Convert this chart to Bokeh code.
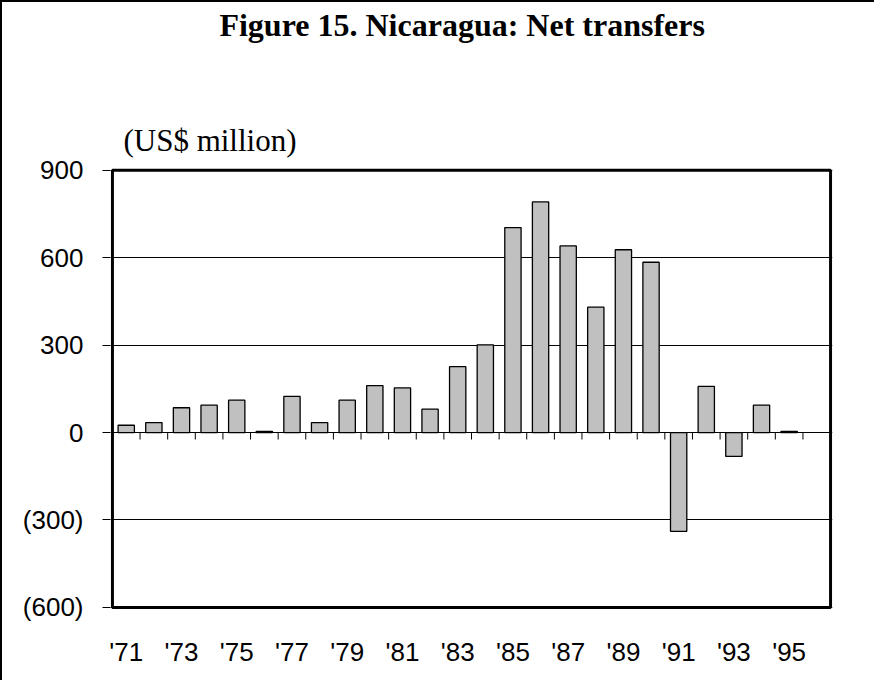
from bokeh.plotting import figure
from bokeh.models import (ColumnDataSource, Range1d, LinearAxis, FixedTicker, Grid, Label)
from bokeh.embed import file_html
from bokeh.resources import INLINE

# ---- data (US$ million) ----
years = ["'71", "'72", "'73", "'74", "'75", "'76", "'77", "'78", "'79", "'80",
         "'81", "'82", "'83", "'84", "'85", "'86", "'87", "'88", "'89", "'90",
         "'91", "'92", "'93", "'94", "'95"]
net_transfers = [25, 34, 85, 94, 111, 4, 124, 34, 111, 161,
                 153, 80, 226, 301, 703, 791, 640, 430, 627, 584,
                 -339, 158, -82, 94, 4]
y_ticks = [-600, -300, 0, 300, 600, 900]
y_tick_labels = ["(600)", "(300)", "0", "300", "600", "900"]
x_label_years = years[::2]
title_text = "Figure 15. Nicaragua: Net transfers"
units_text = "(US$ million)"

n_slots = len(years) + 1  # one empty slot after '95
y_min, y_max = y_ticks[0], y_ticks[-1]
head_room = 575   # extra room above the chart box (data units) for the headings
x_pad, y_pad = 0.07, 7  # so the heavy box line is not clipped

x_pos = [i + 0.5 for i in range(len(years))]
src = ColumnDataSource(dict(x=x_pos, value=net_transfers, year=years))

p = figure(width=874, height=680,
           x_range=Range1d(-x_pad, n_slots + x_pad),
           y_range=Range1d(y_min - y_pad, y_max + head_room),
           x_axis_type=None, y_axis_type=None, title=None,
           output_backend="svg", toolbar_location=None,
           min_border_left=108, min_border_right=44,
           min_border_top=0, min_border_bottom=73)
p.styles = {"border-top": "2px solid black", "border-left": "2px solid black"}

p.outline_line_color = None
p.background_fill_color = "white"
p.border_fill_color = "white"

# horizontal gridlines
ygrid = Grid(dimension=1, ticker=FixedTicker(ticks=y_ticks),
             grid_line_color="black", grid_line_width=1)
p.add_layout(ygrid)

# bars
p.vbar(x="x", top="value", bottom=0, width=0.59, source=src,
       fill_color="#c0c0c0", line_color="black", line_width=1.3)

# small tick marks below the zero line at the category boundaries
boundaries = [float(i) for i in range(1, len(years) + 1)]
tick_len = 24  # in data units (~7 px)
p.segment(x0=boundaries, y0=[0] * len(boundaries),
          x1=boundaries, y1=[-tick_len] * len(boundaries),
          line_color="black", line_width=1)

# the heavy chart box
p.quad(left=[0], right=[n_slots], bottom=[y_min], top=[y_max],
       fill_color=None, line_color="black", line_width=3)

# left axis
yaxis = LinearAxis(ticker=FixedTicker(ticks=y_ticks),
                   major_label_overrides={t: l for t, l in zip(y_ticks, y_tick_labels)},
                   axis_line_color=None, major_tick_out=8, major_tick_in=0,
                   major_tick_line_color="black", minor_tick_line_color=None,
                   major_label_standoff=19,
                   major_label_text_font="Liberation Sans",
                   major_label_text_font_size="26px",
                   major_label_text_color="black")
p.add_layout(yaxis, "left")

# year labels
label_pos = x_pos[::2]
label_axis = LinearAxis(ticker=FixedTicker(ticks=label_pos),
                        major_label_overrides={t: l for t, l in zip(label_pos, x_label_years)},
                        axis_line_color=None, major_tick_line_color=None,
                        minor_tick_line_color=None, major_tick_out=0, major_tick_in=0,
                        major_label_standoff=27,
                        major_label_text_font="Liberation Sans",
                        major_label_text_font_size="26px",
                        major_label_text_color="black")
p.add_layout(label_axis, "below")

# title and units, anchored at the top-left corner of the chart box
units = Label(x=0, y=y_max, x_offset=11, y_offset=30, text=units_text,
              text_align="left", text_baseline="alphabetic",
              text_font="Liberation Serif", text_font_size="31px",
              text_color="black")
p.add_layout(units)
main = Label(x=0, y=y_max, x_offset=107, y_offset=145, text=title_text,
             text_align="left", text_baseline="alphabetic",
             text_font="Liberation Serif", text_font_size="32px",
             text_font_style="bold", text_color="black")
p.add_layout(main)

open("out.html", "w").write(file_html(p, INLINE))
